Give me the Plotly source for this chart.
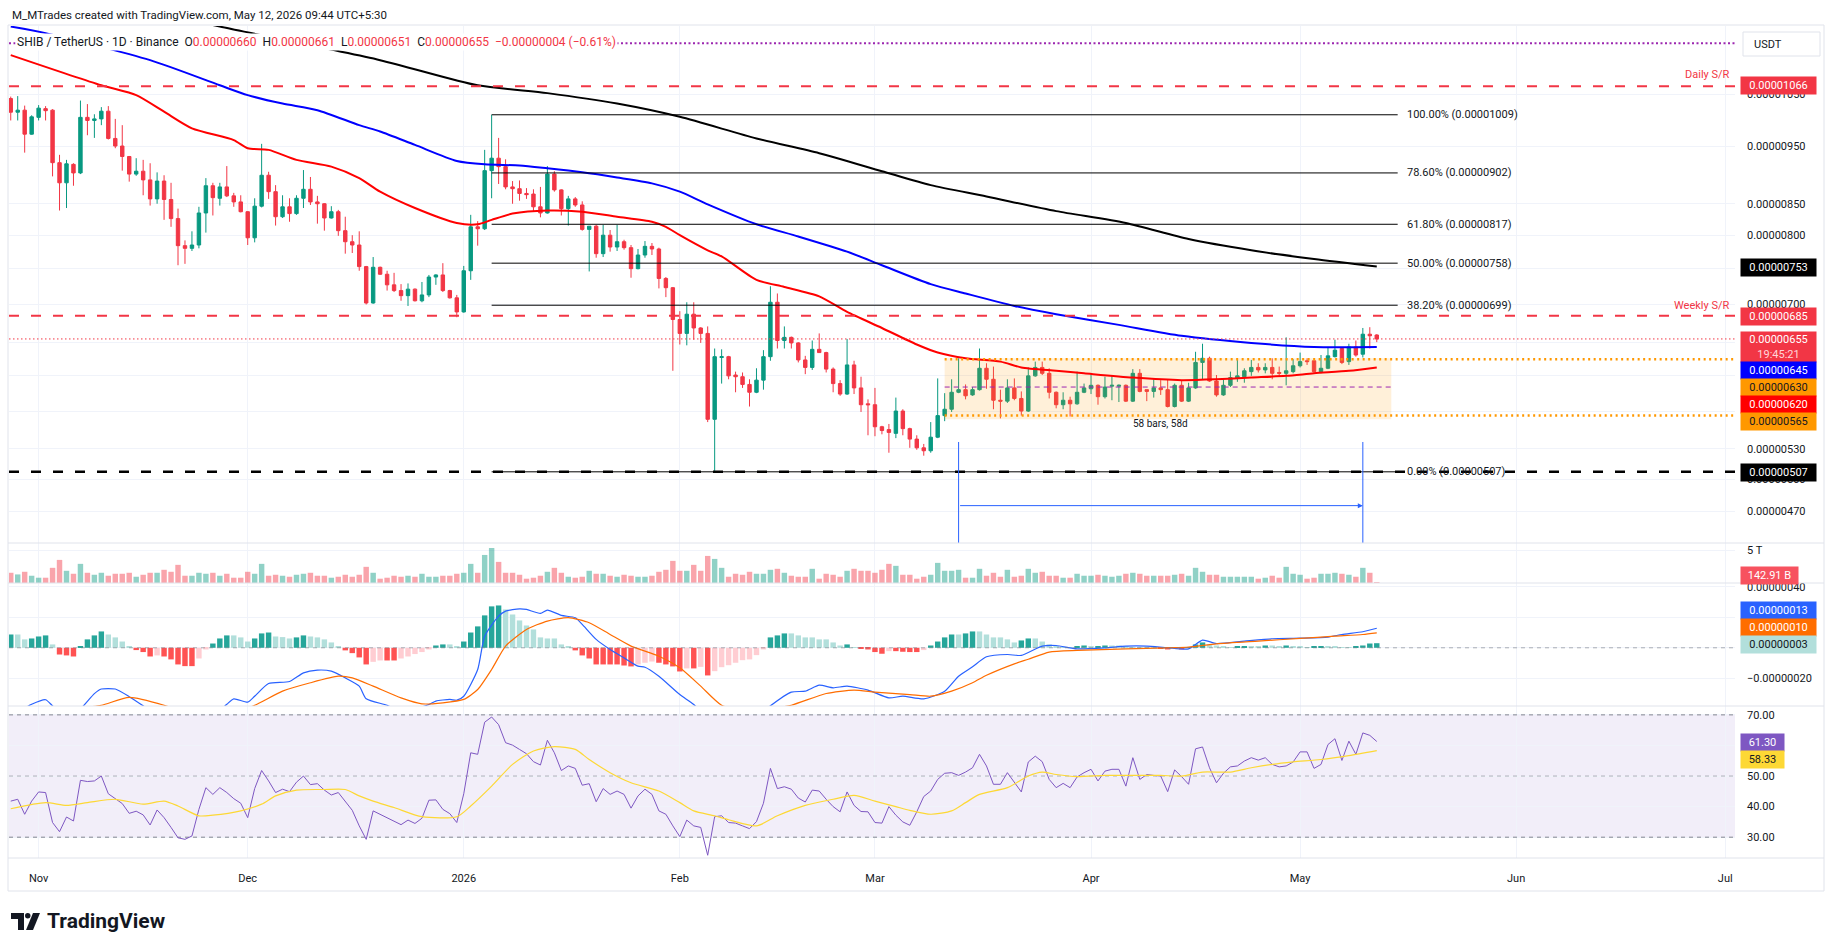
import numpy as np
import pandas as pd
import plotly.graph_objects as go

UNIT = 1e-8  # prices below are in units of 0.00000001 USDT
DAY_MS = 86400000

dates = pd.date_range("2025-10-28", periods=197, freq="D")

opens = [1041,1014,1018,972,1004,1021,1018,920,885,917,
         902,1004,998,1001,1016,964,950,931,900,905,
         890,858,888,857,826,784,780,785,835,880,
         859,878,863,853,837,796,846,898,870,829,
         845,834,859,874,853,850,827,837,807,790,
         785,753,702,752,742,727,719,712,721,705,
         713,738,741,719,709,690,747,813,810,906,
         928,913,878,875,867,866,845,835,900,873,
         842,858,848,809,814,772,800,782,790,781,
         750,770,783,779,736,723,680,662,687,669,
         662,561,632,633,611,609,600,591,605,633,
         703,653,657,650,629,620,642,638,618,601,
         589,623,596,578,577,553,550,546,570,551,
         540,531,528,542,565,572,591,594,588,594,
         619,606,582,581,596,584,570,610,620,613,
         591,577,582,578,591,595,599,586,598,598,
         599,581,613,594,592,596,594,575,599,581,
         596,626,631,604,588,599,607,609,615,620,
         617,620,614,613,615,622,628,628,615,619,
         633,643,627,645,636,661,660]
highs = [1045,1046,1027,1008,1028,1026,1020,934,925,919,
         1037,1030,1010,1024,1026,1001,989,932,928,925,
         919,903,898,885,842,792,806,845,893,885,
         885,914,868,864,838,859,954,904,881,864,
         859,864,907,895,863,851,846,840,829,800,
         806,754,767,753,747,744,728,729,722,731,
         741,742,758,720,713,754,832,822,943,1009,
         965,926,888,889,876,874,878,914,905,874,
         863,861,854,814,816,816,808,816,793,785,
         779,791,788,781,738,724,691,703,703,670,
         671,643,642,634,615,614,606,619,641,725,
         715,671,658,651,634,653,662,639,620,605,
         655,628,609,583,596,554,556,585,572,552,
         544,535,558,607,590,606,631,600,597,643,
         625,621,594,606,607,592,620,627,627,619,
         592,591,586,615,601,613,600,609,611,600,
         600,618,618,594,606,605,606,601,604,602,
         639,649,633,611,606,615,629,619,629,625,
         625,631,621,657,630,638,631,628,635,645,
         654,644,649,653,669,670,661]
lows = [998,998,938,971,998,998,896,839,843,880,
        900,970,965,989,962,946,906,887,897,864,
        847,850,824,813,755,757,776,780,804,831,
        847,861,845,836,785,789,844,858,815,827,
        821,832,843,848,818,807,826,799,772,773,
        747,700,701,741,719,717,705,698,704,703,
        710,727,717,708,683,689,734,784,808,859,
        883,874,850,855,858,837,828,834,870,831,
        815,845,807,746,766,767,775,776,778,737,
        749,766,770,722,710,616,648,647,654,650,
        558,507,601,606,591,596,575,590,594,628,
        643,643,643,626,612,617,638,614,591,587,
        588,589,569,544,543,545,526,541,544,531,
        529,523,526,541,559,569,590,583,587,593,
        595,572,562,579,582,565,569,609,611,584,
        573,572,564,577,590,589,577,584,582,580,
        580,580,591,581,585,588,574,574,580,580,
        595,606,603,586,587,597,603,602,610,614,
        613,606,609,599,613,620,623,614,613,618,
        632,624,623,633,632,643,651]
closes = [1014,1018,972,1005,1022,1017,920,885,918,902,
          1004,998,1001,1016,964,950,931,900,905,890,
          858,888,857,826,784,780,785,835,880,860,
          878,863,853,837,796,846,898,870,829,845,
          834,859,874,853,850,827,837,807,790,785,
          753,702,752,742,727,719,712,721,705,713,
          738,741,719,709,690,747,813,810,906,928,
          913,878,875,867,865,845,835,900,873,842,
          858,848,809,814,772,800,782,790,781,750,
          770,783,779,736,723,680,662,687,669,662,
          561,633,633,610,609,600,591,605,633,703,
          653,657,650,629,620,642,638,618,601,589,
          623,596,577,577,553,549,547,570,551,540,
          531,528,542,565,572,591,594,587,594,619,
          606,582,581,596,584,570,610,620,613,591,
          577,582,578,591,596,599,586,597,599,599,
          581,613,592,592,596,594,575,599,581,596,
          626,631,604,588,599,608,610,616,620,617,
          620,613,613,616,622,627,627,615,619,634,
          641,626,645,635,661,659,655]

# volume in billions of SHIB
volume_b = [1550,1300,1700,1100,800,800,2300,3500,1850,1400,
            2900,1550,1250,1550,1100,1400,1400,1550,950,1250,
            1550,1550,2000,1700,2750,1100,1100,1550,1400,1550,
            1100,1400,800,800,1700,1400,2900,1100,1250,1100,
            950,1250,1400,1550,1100,1100,800,950,1250,950,
            1250,2450,1550,650,800,1100,950,1100,950,1400,
            950,950,1100,1100,1400,1550,2900,1550,4250,5300,
            3200,1550,1550,1250,650,800,1100,1700,2300,1550,
            950,800,950,1850,1400,1400,1100,950,1250,1100,
            950,950,1100,1700,2000,3350,1850,1850,2750,1850,
            4100,3650,2300,950,1400,1250,1700,1400,1400,2000,
            2150,1550,1100,950,950,2150,650,1400,1250,950,
            1850,2150,1850,1850,1550,2000,2900,2600,1250,1250,
            650,950,1250,3050,1850,1850,2000,800,800,2150,
            1100,1550,950,2000,950,1100,2150,1550,1700,1100,
            1100,800,800,1400,1100,1100,1250,1100,950,1100,
            1400,1550,1400,1100,1100,1100,1100,1250,1400,1100,
            2300,1700,1250,1250,950,950,950,950,950,650,
            800,1100,800,2450,1400,1250,650,800,1400,1400,
            1550,1400,1250,950,2300,1550,142.91]

# MACD histogram (units 0.00000001)
macd_hist = [8.7,8.7,5.5,6.1,7.4,8.1,2.2,-4.4,-5.0,-5.7,
             0.9,5.5,8.1,10.7,8.7,6.8,4.1,0.9,-1.5,-2.8,
             -5.7,-5.0,-5.7,-7.6,-10.9,-12.0,-12.0,-7.0,-1.1,2.8,
             6.1,8.1,8.1,6.8,4.1,6.1,9.4,10.0,7.4,7.0,
             6.1,6.8,8.1,7.4,6.8,5.5,3.5,0.9,-1.7,-3.5,
             -6.3,-10.9,-9.2,-8.3,-8.3,-8.3,-7.0,-5.7,-4.1,-2.8,
             -1.1,1.5,2.2,2.2,0.9,4.1,10.0,14.0,21.2,27.1,
             27.7,25.1,21.8,17.9,14.6,12.0,6.8,6.1,6.1,2.2,
             0.9,-1.7,-5.0,-7.0,-10.9,-10.9,-10.9,-10.9,-11.6,-12.2,
             -10.9,-9.8,-9.0,-9.8,-10.9,-12.2,-15.5,-13.5,-13.5,-12.5,
             -18.1,-15.3,-12.7,-11.4,-9.8,-8.1,-7.6,-4.8,-1.1,6.8,
             8.1,9.4,9.4,8.1,6.8,6.8,5.5,5.5,3.5,1.5,
             2.2,0.5,-0.5,-1.1,-2.8,-3.9,-2.2,-2.2,-2.6,-2.8,
             -2.8,-1.5,1.5,4.1,6.8,8.7,8.7,9.4,10.7,10.7,
             8.7,6.8,6.8,5.5,3.5,4.8,6.1,6.1,4.1,2.2,
             0.9,0.5,0.3,0.9,1.5,0.9,1.1,1.5,1.5,1.5,
             0.9,0.5,0.3,0.3,0.2,-0.4,-1.1,0.3,-1.1,0.2,
             2.2,3.5,2.2,1.5,0.9,0.5,0.9,1.1,1.1,1.1,
             1.5,1.5,1.1,1.5,1.1,0.9,0.5,0.9,1.1,1.1,
             0.9,0.5,0.5,0.9,1.5,2.8,3.0]

rsi = [41.8,42.4,37.5,41.8,44.8,44.6,34.8,31.8,36.6,35.3,
       48.6,48.2,48.4,50.0,44.2,42.7,41.0,37.8,38.5,37.3,
       34.0,38.9,36.4,33.2,29.8,29.3,30.4,39.1,46.2,44.0,
       46.2,44.6,42.6,41.1,36.4,45.9,51.8,48.4,44.6,45.7,
       44.9,48.0,50.0,47.2,47.5,45.4,43.8,44.6,41.5,38.8,
       33.7,29.3,38.6,37.5,36.2,35.2,34.1,35.6,34.5,36.2,
       42.1,42.2,39.1,37.7,34.8,44.2,57.6,57.1,67.6,69.3,
       66.8,60.9,60.1,58.7,57.3,54.7,53.6,61.7,57.6,51.8,
       53.3,52.5,47.0,47.5,41.6,45.9,44.0,45.1,44.0,39.5,
       43.5,45.7,44.0,38.6,37.5,33.7,30.2,35.6,33.7,33.2,
       24.1,36.7,37.0,34.8,34.6,33.7,32.8,35.1,41.1,52.5,
       45.9,46.5,45.7,42.8,41.5,45.4,45.1,42.4,40.0,38.3,
       44.8,40.4,38.4,38.3,34.8,34.6,40.0,37.2,35.0,33.9,
       38.3,43.3,45.1,48.9,50.9,51.1,50.2,51.3,52.7,57.1,
       53.3,47.3,47.3,51.1,48.0,44.8,54.6,56.5,54.7,48.9,
       46.2,47.6,46.2,49.7,51.1,52.2,48.4,51.6,52.2,52.2,
       46.7,56.0,48.9,50.5,50.2,50.0,44.9,52.0,49.8,47.3,
       58.9,59.5,52.7,47.8,50.9,53.0,53.3,54.9,56.0,55.2,
       56.0,53.8,53.0,53.3,54.6,57.9,57.9,52.5,53.8,60.3,
       62.2,55.1,61.4,57.1,64.1,63.3,61.3]

# moving averages read at sample bars (bar index, value)
ma_red_idx = [0,13,18,22,26,32,34,37,41,46,50,53,58,64,67,69,72,77,82,87,92,94,96,100,102,
              107,111,116,120,125,130,133,137,142,145,150,154,161,168,173,178,183,187,192,196]
ma_red_val = [1132,1068,1048,1015,983,961,946,943,925,913,893,870,843,819,817,824,834,839,837,829,821,813,800,777,768,
              734,724,711,690,669,648,638,631,627,620,616,613,608,605,606,608,610,613,616,620]
ma_blue_idx = [0,5,20,30,34,39,44,50,53,58,64,68,73,77,82,87,92,96,100,107,113,120,125,132,137,144,150,159,168,178,187,196]
ma_blue_val = [1196,1181,1121,1068,1048,1031,1018,989,977,952,923,917,915,910,903,894,884,870,849,817,798,775,755,728,715,698,687,673,659,650,645,645]
ma_black_idx = [25,30,53,67,77,87,96,107,116,125,132,140,150,160,169,178,187,196]
ma_black_val = [1214,1196,1121,1068,1052,1031,1005,964,937,905,881,862,838,819,794,777,764,753]

macd_idx = [0,3,5,6,8,10,12,13,15,17,19,22,26,29,31,32,34,35,37,40,42,44,46,48,50,51,54,56,58,60,61,63,64,65,
            67,68,70,71,73,74,76,77,79,81,82,84,86,88,90,91,93,96,98,101,104,107,109,112,114,116,118,120,123,126,
            128,131,134,136,138,140,143,145,148,150,153,157,160,163,166,169,171,173,177,181,185,189,191,194,196]
macd_val = [-45,-37,-34,-38,-45,-40,-30,-27,-27,-32,-38,-48,-55,-45,-37,-33.4,-35.6,-31.7,-23.4,-22.1,-16.4,-14.6,-15.3,-19.7,-25.1,-33.4,-37.6,-42,-40,-37.1,-34.9,-33.8,-34.3,-31.7,
            -14.2,7.6,20.7,24.0,25.5,25.1,22.5,24.7,21.2,19.7,15.3,5.5,-1.1,-6.6,-12.0,-12.7,-18.6,-30.6,-37.1,-50,-52,-46,-38,-29,-28.4,-24.5,-26.2,-25.1,-27.7,-32.8,
            -31.7,-33.4,-28.4,-18.6,-12.4,-5.9,-4.4,-5.0,1.1,1.5,-0.7,0,1.1,1.1,0,-0.7,5.0,2.8,4.4,5.9,6.3,7.0,8.7,10.5,12.8]
signal_idx = [0,5,9,13,17,22,26,30,35,39,43,47,49,52,56,59,62,65,67,69,71,74,77,80,83,86,89,93,96,99,102,106,109,112,
              117,121,124,129,132,135,138,140,144,146,149,153,160,166,169,173,179,185,190,194,196]
signal_val = [-45,-42,-40,-37.6,-32.5,-37.6,-44,-46,-37.6,-28.4,-22.9,-18.6,-19.7,-25.1,-32.8,-36.7,-36,-33.8,-27.3,-14.2,1.1,12,17.5,19.7,16.4,8.7,1.1,-5.5,-13.1,-25.1,-37.6,-42,-40,-37.6,
              -29.9,-27.7,-29,-30.6,-31.7,-28.4,-22.9,-18,-10.5,-7.5,-2.8,-1.7,-0.7,0,0.4,2.6,4.4,6.1,7.6,8.7,9.8]
rsi_ma_idx = [0,5,8,11,15,19,22,24,27,29,33,36,38,41,45,48,50,52,55,59,64,66,69,72,75,78,81,83,86,89,93,96,98,101,103,
              107,110,114,118,121,124,127,129,132,135,137,139,143,146,148,150,153,157,161,165,168,171,175,178,181,184,188,192,196]
rsi_ma_val = [39.3,41.3,40.4,41.3,42.4,40.8,41.8,40.2,37.0,37.2,38.6,40.8,43.5,45.4,45.6,45.6,43.5,41.8,39.7,36.7,36.7,40.2,46.7,53.8,58.2,59.6,58.7,55.4,51.1,47.8,45.1,41.3,38.6,37.0,35.7,
              33.7,37.0,40.4,42.4,43.7,41.8,40.0,38.8,37.5,38.6,41.3,44.0,46.2,50.0,51.3,50.5,49.8,50.2,50.2,50.2,50.0,51.3,51.3,52.7,53.8,54.6,55.4,56.7,58.33]

# horizontal levels (units 0.00000001)
daily_sr = 1066
weekly_sr = 685
top_level = 1158
fib_pct = [1.0, 0.786, 0.618, 0.5, 0.382, 0.0]
fib_price = [1009, 902, 817, 758, 699, 507]
range_top, range_mid, range_bot = 630, 597, 565
box_top, box_bot = 631, 561

# ---------------------------------------------------------------- styling
GREEN, RED = "#089981", "#F23645"
TXT = "#131722"
FONT = "Roboto"
GRID = "#F0F3FA"
SEP = "#E0E3EB"
L, R, T, B = 9, 1735, 26, 858


def px(x):
    return (x - L) / (R - L)


def py(y):
    return (B - y) / (B - T)


X0 = pd.Timestamp("2025-10-27 18:00")
X1 = pd.Timestamp("2026-07-02 09:36")
BOX_END = pd.Timestamp("2026-05-14 02:00")
FIB_END = pd.Timestamp("2026-05-15")

o = np.array(opens) * UNIT
h = np.array(highs) * UNIT
l = np.array(lows) * UNIT
c = np.array(closes) * UNIT
up = np.array(closes) >= np.array(opens)

fig = go.Figure()

# range box (behind candles)
box_x0 = dates[134]
fig.add_trace(go.Scatter(x=[box_x0, BOX_END, BOX_END, box_x0, box_x0],
                         y=[box_top * UNIT, box_top * UNIT, box_bot * UNIT, box_bot * UNIT, box_top * UNIT],
                         fill="toself", fillcolor="rgba(255,152,0,0.15)", line=dict(width=0),
                         mode="lines", hoverinfo="skip", showlegend=False))

# moving averages
for idx, val, col in [(ma_black_idx, ma_black_val, "#000000"),
                      (ma_blue_idx, ma_blue_val, "#0000FF"),
                      (ma_red_idx, ma_red_val, "#FF0000")]:
    fig.add_trace(go.Scatter(x=dates[idx], y=np.array(val) * UNIT, mode="lines",
                             line=dict(color=col, width=2, shape="spline", smoothing=0.7),
                             hoverinfo="skip", showlegend=False))


def hline(y, x0, x1, color, width, dash, yaxis="y"):
    fig.add_trace(go.Scatter(x=[x0, x1], y=[y, y], mode="lines", yaxis=yaxis,
                             line=dict(color=color, width=width, dash=dash),
                             hoverinfo="skip", showlegend=False))


# fib retracement lines
for p in fib_price:
    hline(p * UNIT, dates[69], FIB_END, "#000000", 1, "solid")

# drawn levels
hline(top_level * UNIT, X0, X1, "#9C27B0", 2, "2px,2.5px")
hline(daily_sr * UNIT, X0, X1, RED, 2, "10px,12px")
hline(weekly_sr * UNIT, X0, X1, RED, 2, "10px,12px")
hline(fib_price[-1] * UNIT, X0, X1, "#000000", 2.5, "10px,12px")
hline(closes[-1] * UNIT, X0, X1, RED, 1, "1.5px,2.5px")
hline(range_top * UNIT, box_x0, X1, "#FF9800", 2.5, "2px,3.5px")
hline(range_bot * UNIT, box_x0, X1, "#FF9800", 2.5, "2px,3.5px")
hline(range_mid * UNIT, box_x0, BOX_END, "#9C27B0", 1, "5px,4px")

# date range tool verticals
for d in (dates[136], dates[194]):
    fig.add_trace(go.Scatter(x=[d, d], y=[537 * UNIT, 430 * UNIT], mode="lines",
                             line=dict(color="#2962FF", width=1), hoverinfo="skip", showlegend=False))

# candles
fig.add_trace(go.Candlestick(x=dates, open=o, high=h, low=l, close=c,
                             increasing=dict(line=dict(color=GREEN, width=1), fillcolor=GREEN),
                             decreasing=dict(line=dict(color=RED, width=1), fillcolor=RED),
                             whiskerwidth=0, hoverinfo="skip", showlegend=False))

# volume
vcol = np.where(up, "rgba(8,153,129,0.45)", "rgba(242,54,69,0.45)")
fig.add_trace(go.Bar(x=dates, y=volume_b, marker=dict(color=vcol, line=dict(width=0)),
                     width=0.78 * DAY_MS, yaxis="y2", hoverinfo="skip", showlegend=False))

# MACD
hcol = []
prev = 0.0
for v in macd_hist:
    if v >= 0:
        hcol.append("#26A69A" if v > prev else "#B2DFDB")
    else:
        hcol.append("#FFCDD2" if v > prev else "#FF5252")
    prev = v
fig.add_trace(go.Bar(x=dates, y=np.array(macd_hist) * UNIT, marker=dict(color=hcol, line=dict(width=0)),
                     width=0.78 * DAY_MS, yaxis="y3", hoverinfo="skip", showlegend=False))
fig.add_trace(go.Scatter(x=dates[macd_idx], y=np.array(macd_val) * UNIT, mode="lines", yaxis="y3",
                         line=dict(color="#2962FF", width=1.2, shape="spline", smoothing=0.6),
                         hoverinfo="skip", showlegend=False))
fig.add_trace(go.Scatter(x=dates[signal_idx], y=np.array(signal_val) * UNIT, mode="lines", yaxis="y3",
                         line=dict(color="#FF6D00", width=1.2, shape="spline", smoothing=0.6),
                         hoverinfo="skip", showlegend=False))
hline(0, X0, X1, "rgba(120,123,134,0.6)", 1, "4px,4px", yaxis="y3")

# RSI
for lv, a in [(70, 0.9), (50, 0.55), (30, 0.9)]:
    hline(lv, X0, X1, f"rgba(120,123,134,{a})", 1, "4px,4px", yaxis="y4")
fig.add_trace(go.Scatter(x=dates, y=rsi, mode="lines", yaxis="y4",
                         line=dict(color="#7E57C2", width=1), hoverinfo="skip", showlegend=False))
fig.add_trace(go.Scatter(x=dates[rsi_ma_idx], y=rsi_ma_val, mode="lines", yaxis="y4",
                         line=dict(color="#FDD835", width=1.2, shape="spline", smoothing=0.7),
                         hoverinfo="skip", showlegend=False))

# ---------------------------------------------------------------- axes
month_ticks = pd.to_datetime(["2025-11-01", "2025-12-01", "2026-01-01", "2026-02-01", "2026-03-01",
                              "2026-04-01", "2026-05-01", "2026-06-01", "2026-07-01"])
month_text = ["Nov", "Dec", "2026", "Feb", "Mar", "Apr", "May", "Jun", "Jul"]

main_ticks = [1050, 950, 850, 800, 750, 700, 650, 610, 570, 530, 500, 470]
main_hidden = {750, 650, 610, 570}          # covered by price labels in the reference
macd_ticks = [40, 20, 0, -20]
macd_hidden = {20, 0}
rsi_ticks = [70, 60, 50, 40, 30]
rsi_hidden = {60}


def fmt(v):
    s = f"{abs(v) * UNIT:.8f}"
    return ("\u2212" + s) if v < 0 else s


yax_common = dict(side="right", showgrid=True, gridcolor=GRID, zeroline=False, showline=False,
                  ticks="", tickfont=dict(family=FONT, size=11, color=TXT), anchor="x",
                  ticklabelstandoff=11, fixedrange=True, tickmode="array")

fig.update_layout(
    width=1835, height=951, autosize=False,
    margin=dict(l=L, r=1835 - R, t=T, b=951 - B),
    paper_bgcolor="white", plot_bgcolor="white",
    barmode="overlay", showlegend=False,
    font=dict(family=FONT, size=11, color=TXT),
    xaxis=dict(type="date", range=[X0, X1], tickmode="array", tickvals=month_ticks, ticktext=month_text,
               showgrid=True, gridcolor=GRID, zeroline=False, showline=False, ticks="",
               tickfont=dict(family=FONT, size=11, color=TXT), anchor="y4", rangeslider=dict(visible=False),
               ticklabelstandoff=12, fixedrange=True),
    yaxis=dict(domain=[py(543), 1], type="log", range=[np.log10(442 * UNIT), np.log10(1197.3 * UNIT)],
               tickvals=[v * UNIT for v in main_ticks],
               ticktext=["" if v in main_hidden else fmt(v) for v in main_ticks], **yax_common),
    yaxis2=dict(domain=[py(583), py(543)], range=[0, 6060], tickvals=[5000], ticktext=["5 T"], **yax_common),
    yaxis3=dict(domain=[py(706), py(583)], range=[-38.1 * UNIT, 42.4 * UNIT],
                tickvals=[v * UNIT for v in macd_ticks],
                ticktext=["" if v in macd_hidden else fmt(v) for v in macd_ticks], **yax_common),
    yaxis4=dict(domain=[0, py(706)], range=[23.2, 72.9],
                tickvals=rsi_ticks, ticktext=["" if v in rsi_hidden else f"{v:.2f}" for v in rsi_ticks],
                **yax_common),
)

shapes = []
# RSI band
shapes.append(dict(type="rect", xref="paper", yref="y4", x0=0, x1=1, y0=30, y1=70,
                   fillcolor="rgba(126,87,194,0.1)", line=dict(width=0), layer="below"))
# pane separators & frame
for yy in (543, 583, 706, 858):
    shapes.append(dict(type="line", xref="paper", yref="paper", x0=px(8), x1=px(1824), y0=py(yy), y1=py(yy),
                       line=dict(color=SEP, width=1)))
shapes.append(dict(type="rect", xref="paper", yref="paper", x0=px(8), x1=px(1824), y0=py(25), y1=py(891),
                   line=dict(color=SEP, width=1), fillcolor="rgba(0,0,0,0)"))
# USDT box
shapes.append(dict(type="rect", xref="paper", yref="paper", x0=px(1743), x1=px(1820), y0=py(32), y1=py(56),
                   line=dict(color=SEP, width=1), fillcolor="white"))


# TradingView logo mark
def pth(points):
    return "M " + " L ".join(f"{px(x)},{py(y)}" for x, y in points) + " Z"


shapes.append(dict(type="path", xref="paper", yref="paper", line=dict(width=0), fillcolor="#131722",
                   path=pth([(11, 913), (24, 913), (24, 930), (18, 930), (18, 919), (11, 919)])))
shapes.append(dict(type="circle", xref="paper", yref="paper", line=dict(width=0), fillcolor="#131722",
                   x0=px(25), x1=px(30.5), y0=py(913), y1=py(918.5)))
shapes.append(dict(type="path", xref="paper", yref="paper", line=dict(width=0), fillcolor="#131722",
                   path=pth([(33, 913), (40, 913), (33, 930), (26, 930)])))
fig.update_layout(shapes=shapes)

ann = []


def price_label(ypix, text, bg, fg, w=71, hgt=13):
    ann.append(dict(xref="paper", yref="paper", x=px(1740), y=py(ypix), xanchor="left", yanchor="middle",
                    text=text, showarrow=False, bgcolor=bg, borderpad=2, width=w, height=hgt,
                    align="center", valign="middle", font=dict(family=FONT, size=11, color=fg)))


price_label(85.3, fmt(daily_sr), RED, "white")
price_label(267, fmt(ma_black_val[-1]), "#000000", "white")
price_label(316.3, fmt(weekly_sr), RED, "white")
price_label(346.7, fmt(closes[-1]) + "<br><span style='color:#FFD6D9'>19:45:21</span>", RED, "white", hgt=26)
price_label(370, fmt(ma_blue_val[-1]), "#0000FF", "white")
price_label(387.5, fmt(range_top), "#FF9800", TXT)
price_label(404.3, fmt(ma_red_val[-1]), "#FF0000", "white")
price_label(421.5, fmt(range_bot), "#FF9800", TXT)
price_label(472.5, fmt(fib_price[-1]), "#000000", "white")
price_label(575.3, f"{volume_b[-1]:.2f} B", "#F7525F", "white", w=53)
price_label(610.3, fmt(macd_val[-1]), "#2962FF", "white")
price_label(627.2, fmt(signal_val[-1]), "#FF6D00", "white")
price_label(644.2, fmt(macd_hist[-1]), "#B2DFDB", TXT)
price_label(742, f"{rsi[-1]:.2f}", "#7E57C2", "white", w=39)
price_label(759.3, f"{rsi_ma_val[-1]:.2f}", "#FDD835", TXT, w=39)

ann.append(dict(xref="paper", yref="paper", x=px(1752), y=py(44), xanchor="left", yanchor="middle",
                text="USDT", showarrow=False, font=dict(family=FONT, size=11, color=TXT)))

# fib labels
for pct, p in zip(fib_pct, fib_price):
    ann.append(dict(xref="paper", yref="y", x=px(1405), y=np.log10(p * UNIT), xanchor="left", yanchor="middle",
                    text=f"{pct * 100:.2f}% ({fmt(p)})", showarrow=False,
                    font=dict(family=FONT, size=11, color=TXT)))

ann.append(dict(xref="paper", yref="paper", x=px(1732), y=py(75), xanchor="right", yanchor="middle",
                text="Daily S/R", showarrow=False, font=dict(family=FONT, size=11, color=RED)))
ann.append(dict(xref="paper", yref="paper", x=px(1732), y=py(305.5), xanchor="right", yanchor="middle",
                text="Weekly S/R", showarrow=False, font=dict(family=FONT, size=11, color=RED)))
ann.append(dict(xref="paper", yref="paper", x=px(1160), y=py(423), xanchor="center", yanchor="middle",
                text="58 bars, 58d", showarrow=False, font=dict(family=FONT, size=10, color=TXT)))

# date range arrow
ann.append(dict(xref="x", yref="y", x=dates[194], y=np.log10(475 * UNIT), axref="x", ayref="y",
                ax=dates[136], ay=np.log10(475 * UNIT), showarrow=True, arrowhead=2, arrowsize=1,
                arrowwidth=1, arrowcolor="#2962FF", text=""))

# header and legend
ann.append(dict(xref="paper", yref="paper", x=px(10), y=py(15), xanchor="left", yanchor="middle",
                text="M_MTrades created with TradingView.com, May 12, 2026 09:44 UTC+5:30", showarrow=False,
                font=dict(family=FONT, size=11.5, color=TXT)))
chg = closes[-1] - closes[-2]
pct = chg / closes[-2] * 100
sp = "\u00a0"
red_span = lambda s: f"<span style='color:{RED}'>{s}</span>"
legend_txt = (f"SHIB / TetherUS · 1D · Binance{sp}{sp}O{red_span(fmt(opens[-1]))}{sp}{sp}"
              f"H{red_span(fmt(highs[-1]))}{sp}{sp}L{red_span(fmt(lows[-1]))}{sp}{sp}"
              f"C{red_span(fmt(closes[-1]))}{sp}{sp}"
              + red_span(f"{fmt(chg)} (\u2212{abs(pct):.2f}%)"))
ann.append(dict(xref="paper", yref="paper", x=px(15), y=py(42.5), xanchor="left", yanchor="middle",
                text=legend_txt, showarrow=False, bgcolor="white", borderpad=1,
                font=dict(family=FONT, size=12, color=TXT)))

ann.append(dict(xref="paper", yref="paper", x=px(45), y=py(921), xanchor="left", yanchor="middle",
                text="<b>TradingView</b>", showarrow=False, font=dict(family=FONT, size=21, color="#131722")))

fig.update_layout(annotations=ann)

fig.write_html("out.html")
